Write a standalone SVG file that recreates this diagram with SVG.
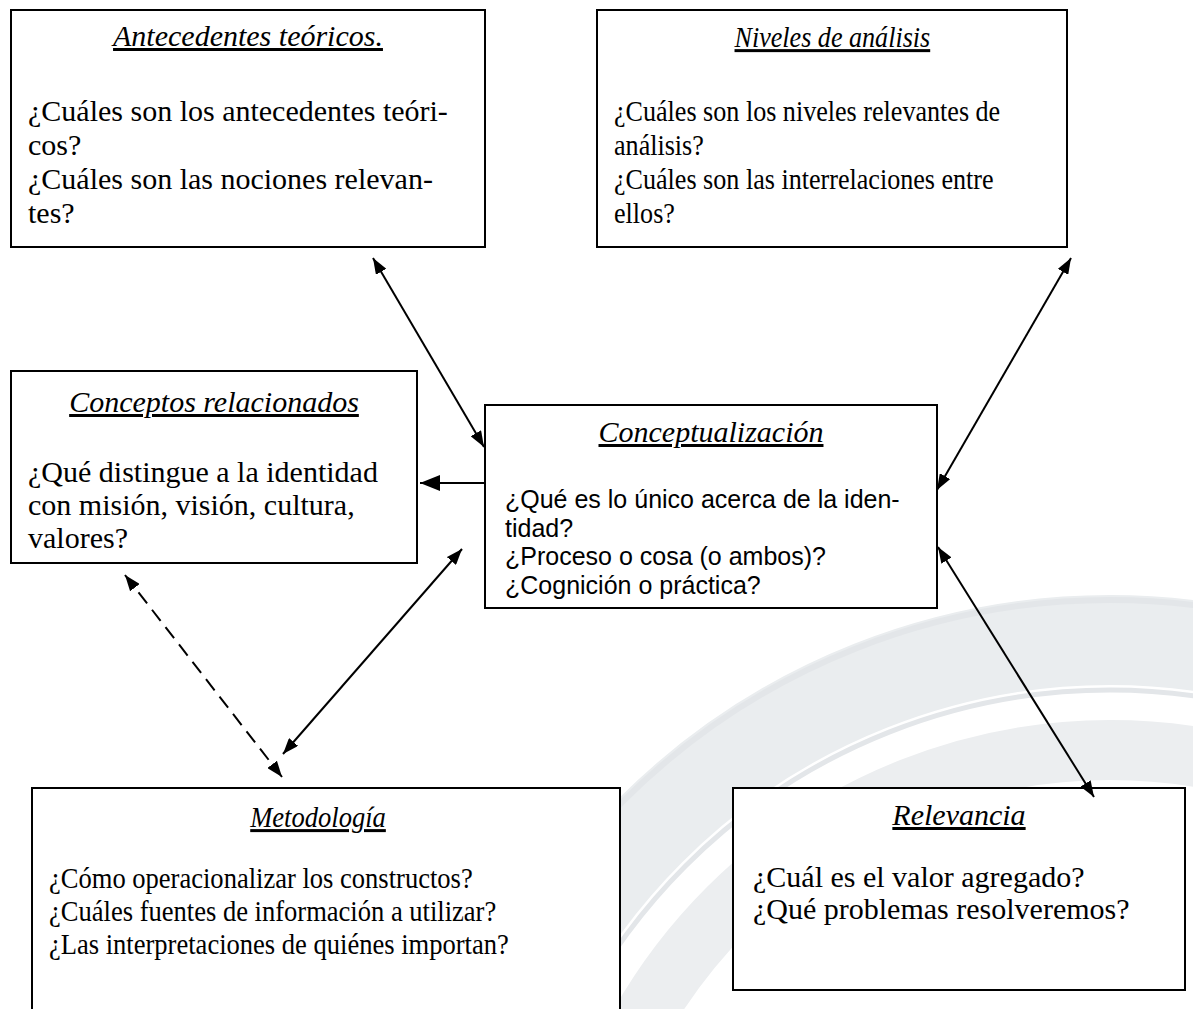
<svg xmlns="http://www.w3.org/2000/svg" width="1193" height="1009" viewBox="0 0 1193 1009">
<style>
.box{fill:#fff;stroke:#000;stroke-width:2}
.ttl{font-family:"Liberation Serif","Times New Roman",serif;font-style:italic;text-decoration:underline;text-anchor:middle;fill:#000;font-size:30px}
.bd{font-family:"Liberation Serif","Times New Roman",serif;fill:#000;font-size:30px}
.ar{font-family:"Liberation Sans",Arial,sans-serif;fill:#000;font-size:25px}
.con{stroke:#000;stroke-width:2;fill:none}
.wm{fill:none}
</style>
<defs>
<marker id="ah" markerUnits="userSpaceOnUse" viewBox="0 0 16 12" markerWidth="16" markerHeight="12" refX="16" refY="6" orient="auto-start-reverse">
<path d="M0,0 L16,6 L0,12 z" fill="#000"/>
</marker>
<marker id="ahb" markerUnits="userSpaceOnUse" viewBox="0 0 20 16" markerWidth="20" markerHeight="16" refX="20" refY="8" orient="auto">
<path d="M0,0 L20,8 L0,16 z" fill="#000"/>
</marker>
</defs>
<rect width="1193" height="1009" fill="#fff"/>
<g id="watermark">
<circle class="wm" cx="1110" cy="1290" r="650" stroke="#eaedef" stroke-width="90"/>
<circle class="wm" cx="1110" cy="1290" r="540" stroke="#eceef0" stroke-width="60"/>
<circle class="wm" cx="1110" cy="1290" r="690" stroke="#e3e6e9" stroke-width="6"/>
<circle class="wm" cx="1110" cy="1290" r="600" stroke="#e3e6e9" stroke-width="5"/>
</g>
<g id="antecedentes">
<rect class="box" x="11" y="10" width="474" height="237"/>
<text class="ttl" x="248" y="46">Antecedentes teóricos.</text>
<text class="bd" x="28" y="121">¿Cuáles son los antecedentes teóri-</text>
<text class="bd" x="28" y="155">cos?</text>
<text class="bd" x="28" y="189">¿Cuáles son las nociones relevan-</text>
<text class="bd" x="28" y="223">tes?</text>
</g>
<g id="niveles">
<rect class="box" x="597" y="10" width="470" height="237"/>
<g transform="translate(614,0) scale(0.87,1)">
<text class="ttl" x="251" y="47">Niveles de análisis</text>
<text class="bd" x="0" y="121">¿Cuáles son los niveles relevantes de</text>
<text class="bd" x="0" y="155">análisis?</text>
<text class="bd" x="0" y="189">¿Cuáles son las interrelaciones entre</text>
<text class="bd" x="0" y="223">ellos?</text>
</g>
</g>
<g id="conceptos">
<rect class="box" x="11" y="371" width="406" height="192"/>
<text class="ttl" x="214" y="412">Conceptos relacionados</text>
<text class="bd" x="28" y="482">¿Qué distingue a la identidad</text>
<text class="bd" x="28" y="515">con misión, visión, cultura,</text>
<text class="bd" x="28" y="548">valores?</text>
</g>
<g id="conceptualizacion">
<rect class="box" x="485" y="405" width="452" height="203"/>
<text class="ttl" x="711" y="442">Conceptualización</text>
<text class="ar" x="505" y="508">¿Qué es lo único acerca de la iden-</text>
<text class="ar" x="505" y="537">tidad?</text>
<text class="ar" x="505" y="565">¿Proceso o cosa (o ambos)?</text>
<text class="ar" x="505" y="594">¿Cognición o práctica?</text>
</g>
<g id="metodologia">
<rect class="box" x="32" y="788" width="588" height="240"/>
<g transform="translate(49,0) scale(0.885,1)">
<text class="ttl" x="304" y="827">Metodología</text>
<text class="bd" x="0" y="888">¿Cómo operacionalizar los constructos?</text>
<text class="bd" x="0" y="921">¿Cuáles fuentes de información a utilizar?</text>
<text class="bd" x="0" y="954">¿Las interpretaciones de quiénes importan?</text>
</g>
</g>
<g id="relevancia">
<rect class="box" x="733" y="788" width="452" height="202"/>
<text class="ttl" x="959" y="825">Relevancia</text>
<text class="bd" x="753" y="887">¿Cuál es el valor agregado?</text>
<text class="bd" x="753" y="919">¿Qué problemas resolveremos?</text>
</g>
<g id="connectors">
<line class="con" x1="373" y1="258" x2="484" y2="447" marker-start="url(#ah)" marker-end="url(#ah)"/>
<line class="con" x1="1071" y1="258" x2="937" y2="490" marker-start="url(#ah)" marker-end="url(#ah)"/>
<line class="con" x1="938" y1="547" x2="1094" y2="797" marker-start="url(#ah)" marker-end="url(#ah)"/>
<line class="con" x1="462" y1="549" x2="283" y2="754" marker-start="url(#ah)" marker-end="url(#ah)"/>
<line class="con" x1="125" y1="575" x2="282" y2="777" stroke-dasharray="14 8" marker-start="url(#ah)" marker-end="url(#ah)"/>
<line class="con" x1="485" y1="483" x2="420" y2="483" stroke-width="4" marker-end="url(#ahb)"/>
</g>
</svg>
